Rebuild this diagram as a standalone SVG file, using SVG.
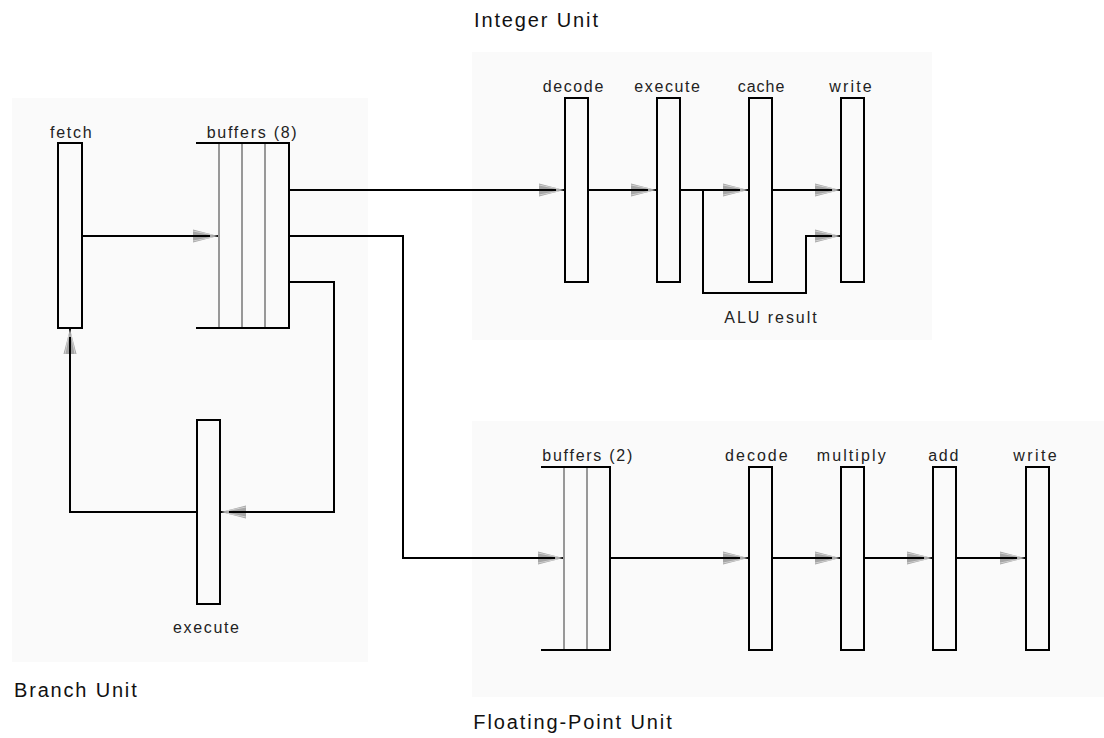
<svg xmlns="http://www.w3.org/2000/svg" width="1104" height="738" viewBox="0 0 1104 738">
<style>
.panel{fill:#fafafa;stroke:none}
.box{fill:#fafafa;stroke:#000;stroke-width:2}
.edge{fill:none;stroke:#000;stroke-width:2}
.div{stroke:#777;stroke-width:1.5}
.conn{fill:none;stroke:#000;stroke-width:2;marker-end:url(#arr)}
.lbl{font-family:"Liberation Sans",Arial,sans-serif;font-size:16px;fill:#222}
.title{font-family:"Liberation Sans",Arial,sans-serif;font-size:20px;fill:#111}
</style>
<defs>
<marker id="arr" markerUnits="userSpaceOnUse" markerWidth="30" markerHeight="16" refX="25" refY="6.5" orient="auto" overflow="visible">
<path d="M0,0 L25,6.5 L0,13 Z" fill="#a6a6a6"/>
<path d="M0,1.5 L19,5.3 M0,11.5 L19,7.7" stroke="#d0d0d0" stroke-width="1"/>
<path d="M0,6.5 L17,6.5" stroke="#000" stroke-width="2"/>
</marker>
</defs>
<rect id="branch-panel" class="panel" x="12" y="98" width="356" height="564"/>
<rect id="integer-panel" class="panel" x="472" y="52" width="460" height="288"/>
<rect id="fp-panel" class="panel" x="472" y="421" width="632" height="276"/>
<g id="connectors">
<path class="conn" d="M82,236 H218"/>
<path class="conn" d="M289,190 H564"/>
<path class="conn" d="M289,236 H403 V558 H563"/>
<path class="conn" d="M289,282 H334 V512 H221"/>
<path class="conn" d="M197,512 H70 V329"/>
<path class="conn" d="M588,190 H656"/>
<path class="conn" d="M680,190 H748"/>
<path class="conn" d="M772,190 H840"/>
<path class="conn" d="M703,190 V293 H806 V236 H840"/>
<path class="conn" d="M610,558 H748"/>
<path class="conn" d="M772,558 H840"/>
<path class="conn" d="M864,558 H932"/>
<path class="conn" d="M956,558 H1025"/>
</g>
<g id="fetch">
<rect class="box" x="58" y="143" width="24" height="185"/>
<text class="lbl" x="50" y="138" textLength="41.7">fetch</text>
</g>
<g id="buffers8">
<line class="div" x1="219" y1="143" x2="219" y2="328"/>
<line class="div" x1="242" y1="143" x2="242" y2="328"/>
<line class="div" x1="265" y1="143" x2="265" y2="328"/>
<path class="edge" d="M196,143 H289 V328 H196"/>
<text class="lbl" x="206.7" y="138" textLength="90">buffers (8)</text>
</g>
<g id="branch-execute">
<rect class="box" x="197" y="420" width="23" height="184"/>
<text class="lbl" x="173" y="633" textLength="66">execute</text>
</g>
<g id="int-decode">
<rect class="box" x="565" y="98" width="23" height="184"/>
<text class="lbl" x="542.7" y="91.7" textLength="60.6">decode</text>
</g>
<g id="int-execute">
<rect class="box" x="657" y="98" width="23" height="184"/>
<text class="lbl" x="634.3" y="91.7" textLength="65.7">execute</text>
</g>
<g id="int-cache">
<rect class="box" x="749" y="98" width="23" height="184"/>
<text class="lbl" x="737.7" y="91.7" textLength="46.6">cache</text>
</g>
<g id="int-write">
<rect class="box" x="841" y="98" width="23" height="184"/>
<text class="lbl" x="829.3" y="91.7" textLength="42.4">write</text>
</g>
<g id="alu-label">
<text class="lbl" x="724.3" y="323.3" textLength="92.4">ALU result</text>
</g>
<g id="buffers2">
<line class="div" x1="564" y1="467" x2="564" y2="650"/>
<line class="div" x1="587" y1="467" x2="587" y2="650"/>
<path class="edge" d="M541,467 H610 V650 H541"/>
<text class="lbl" x="542.3" y="461" textLength="90">buffers (2)</text>
</g>
<g id="fp-decode">
<rect class="box" x="749" y="467" width="23" height="183"/>
<text class="lbl" x="725" y="461" textLength="62.7">decode</text>
</g>
<g id="fp-multiply">
<rect class="box" x="841" y="467" width="23" height="183"/>
<text class="lbl" x="816.7" y="461" textLength="69">multiply</text>
</g>
<g id="fp-add">
<rect class="box" x="933" y="467" width="23" height="183"/>
<text class="lbl" x="928.3" y="461" textLength="30">add</text>
</g>
<g id="fp-write">
<rect class="box" x="1026" y="467" width="23" height="183"/>
<text class="lbl" x="1013.3" y="461" textLength="43.4">write</text>
</g>
<g id="titles">
<text class="title" x="474" y="27.3" textLength="124">Integer Unit</text>
<text class="title" x="14" y="697.3" textLength="122.7">Branch Unit</text>
<text class="title" x="473.3" y="729.3" textLength="198.4">Floating-Point Unit</text>
</g>
</svg>
